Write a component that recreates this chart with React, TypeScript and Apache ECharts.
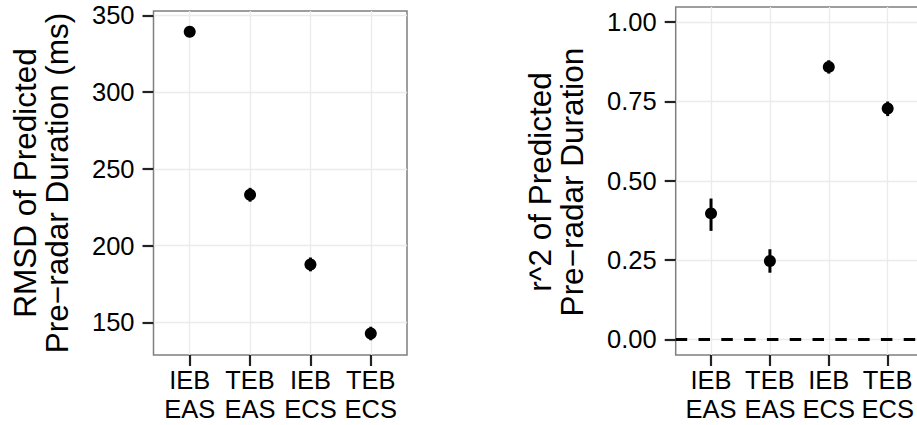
import React, { useEffect, useRef } from "react";
import * as echarts from "echarts";

const categoryTop = ["IEB", "TEB", "IEB", "TEB"];
const categoryBottom = ["EAS", "EAS", "ECS", "ECS"];
const catPositions = [0, 1, 2, 3];

const rmsdValues = [339.3, 233.1, 187.7, 142.7];
const rmsdLow = [337.3, 228.6, 183.2, 138.3];
const rmsdHigh = [341.3, 237.6, 192.2, 147.1];
const rmsdTicks = [150, 200, 250, 300, 350];

const r2Values = [0.397, 0.247, 0.859, 0.728];
const r2Low = [0.342, 0.21, 0.838, 0.704];
const r2High = [0.444, 0.284, 0.88, 0.75];
const r2Ticks = [0, 0.25, 0.5, 0.75, 1.0];

const FONT = "'Liberation Sans', Arial, Helvetica, sans-serif";

function App() {
  const ref = useRef<HTMLDivElement>(null);

  useEffect(() => {
    document.body.style.margin = "0";
    if (!ref.current) return;
    const chart = echarts.init(ref.current, null, { renderer: "svg" });

    const gridStyle = {
      show: true,
      borderColor: "#7f7f7f",
      borderWidth: 1.5,
      backgroundColor: "transparent",
      containLabel: false,
      outerBoundsMode: "none",
    };

    const makeX = (gridIndex: number) => ({
      type: "value" as const,
      gridIndex,
      min: -0.6,
      max: 3.6,
      position: "bottom" as const,
      axisLine: { show: false, onZero: false },
      axisTick: {
        show: true,
        length: 11,
        customValues: catPositions,
        lineStyle: { color: "#222", width: 2.2 },
      },
      axisLabel: {
        show: true,
        customValues: catPositions,
        margin: 6,
        color: "#000",
        fontFamily: FONT,
        fontSize: 25.5,
        formatter: (v: number) => {
          const i = Math.round(v);
          return `{a|${categoryTop[i] ?? ""}}\n{b|${categoryBottom[i] ?? ""}}`;
        },
        rich: {
          a: { fontSize: 25.5, lineHeight: 38, fontFamily: FONT, color: "#000" },
          b: { fontSize: 25.5, lineHeight: 20, fontFamily: FONT, color: "#000" },
        },
      },
      splitLine: { show: true, lineStyle: { color: "#ebebeb", width: 1.3 } },
    });

    const makeY = (
      gridIndex: number,
      min: number,
      max: number,
      ticks: number[],
      fmt: (v: number) => string
    ) => ({
      type: "value" as const,
      gridIndex,
      min,
      max,
      position: "left" as const,
      axisLine: { show: false, onZero: false },
      axisTick: {
        show: true,
        length: 11,
        customValues: ticks,
        lineStyle: { color: "#222", width: 2.2 },
      },
      axisLabel: {
        show: true,
        customValues: ticks,
        margin: 19,
        fontSize: 25.5,
        color: "#000",
        fontFamily: FONT,
        formatter: fmt,
      },
      splitLine: { show: true, lineStyle: { color: "#ebebeb", width: 1.3 } },
    });

    const errRender = (params: any, api: any) => {
      const x = api.value(0);
      const p1 = api.coord([x, api.value(1)]);
      const p2 = api.coord([x, api.value(2)]);
      return {
        type: "line",
        shape: { x1: p1[0], y1: p1[1], x2: p2[0], y2: p2[1] },
        style: { stroke: "#000", lineWidth: 3 },
      };
    };

    chart.setOption({
      animation: false,
      grid: [
        { left: 153.5, top: 11, width: 253.5, height: 344, ...gridStyle },
        { left: 675.7, top: 7, width: 247.3, height: 348, ...gridStyle },
      ],
      xAxis: [makeX(0), makeX(1)],
      yAxis: [
        makeY(0, 128.7, 352.8, rmsdTicks, (v: number) => String(v)),
        makeY(1, -0.0495, 1.048, r2Ticks, (v: number) => v.toFixed(2)),
      ],
      graphic: [
        {
          type: "text",
          x: 41,
          y: 183,
          rotation: Math.PI / 2,
          style: {
            text: "RMSD of Predicted\nPre\u2212radar Duration (ms)",
            fontSize: 31.5,
            fontFamily: FONT,
            lineHeight: 32,
            align: "center",
            verticalAlign: "middle",
            fill: "#000",
          },
        },
        {
          type: "text",
          x: 556,
          y: 182,
          rotation: Math.PI / 2,
          style: {
            text: "r^2 of Predicted\nPre\u2212radar Duration",
            fontSize: 31.5,
            fontFamily: FONT,
            lineHeight: 32,
            align: "center",
            verticalAlign: "middle",
            fill: "#000",
          },
        },
      ],
      series: [
        {
          type: "custom",
          xAxisIndex: 0,
          yAxisIndex: 0,
          renderItem: errRender,
          encode: { x: 0, y: [1, 2] },
          data: catPositions.map((c, i) => [c, rmsdLow[i], rmsdHigh[i]]),
          z: 3,
        },
        {
          type: "scatter",
          xAxisIndex: 0,
          yAxisIndex: 0,
          symbol: "circle",
          symbolSize: 12,
          itemStyle: { color: "#000", opacity: 1 },
          data: catPositions.map((c, i) => [c, rmsdValues[i]]),
          z: 4,
        },
        {
          type: "custom",
          xAxisIndex: 1,
          yAxisIndex: 1,
          renderItem: errRender,
          encode: { x: 0, y: [1, 2] },
          data: catPositions.map((c, i) => [c, r2Low[i], r2High[i]]),
          z: 3,
        },
        {
          type: "scatter",
          xAxisIndex: 1,
          yAxisIndex: 1,
          symbol: "circle",
          symbolSize: 12,
          itemStyle: { color: "#000", opacity: 1 },
          data: catPositions.map((c, i) => [c, r2Values[i]]),
          z: 4,
          markLine: {
            silent: true,
            symbol: "none",
            label: { show: false },
            lineStyle: { color: "#000", type: [11.5, 11.3], width: 3 },
            data: [{ yAxis: 0 }],
          },
        },
      ],
    });

    return () => chart.dispose();
  }, []);

  return <div ref={ref} style={{ width: 917, height: 425 }} />;
}

export default App;
